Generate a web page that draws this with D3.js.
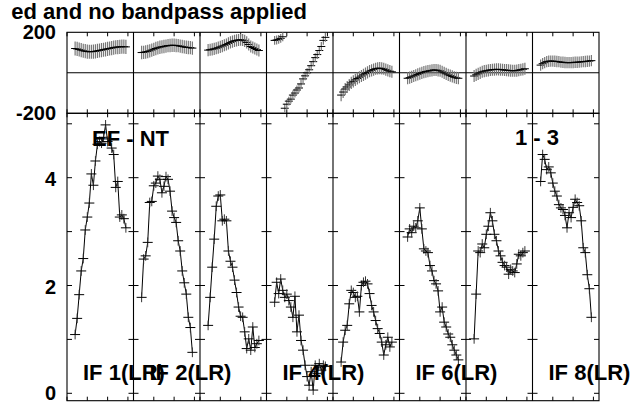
<!DOCTYPE html>
<html><head><meta charset="utf-8">
<script src="https://cdn.jsdelivr.net/npm/d3@7/dist/d3.min.js"></script>
<style>
body{margin:0;background:#fff}
svg{display:block}
text{font-family:"Liberation Sans",Arial,Helvetica,sans-serif;font-weight:bold;fill:#000}
</style>
</head><body>
<svg id="c" width="638" height="402"></svg>
<script>
// ---------------- data ----------------
const titleText = "ed and no bandpass applied";
const baselineLabel = "EF - NT";
const timeLabel = "1 - 3";
const ifNames = ["IF 1(LR)","IF 2(LR)","IF 3(LR)","IF 4(LR)","IF 5(LR)","IF 6(LR)","IF 7(LR)","IF 8(LR)"];
const ifLabelShown = [true, true, false, true, false, true, false, true];
const channels = [4,5,6,7,8,9,10,11,12,13,14,15,16,17,18,19,20,21,22,23,24,25,26,27,28,29];
const channelTicks = [0,10,20,30];
const phaseTicks = [-200, 200];
const ampTicks = [0,1,2,3,4,5];
const ampTickLabels = [0,2,4];

const phaseIF1 = [120,118,115,112,109,107,105,104,104,105,106,108,110,112,114,116,118,120,122,124,126,127,128,129,129,128];
const phaseIF2 = [100,101,103,105,108,112,116,120,123,126,128,130,132,134,135,136,136,135,134,132,130,128,126,125,124,122];
const phaseIF3 = [112,114,116,118,121,124,128,132,136,140,145,150,154,158,160,162,163,162,158,150,140,130,125,120,115,110];
const phaseIF4 = [160,162,165,170,178,-175,-155,-140,-130,-110,-100,-85,-75,-55,-30,-15,0,15,35,55,75,90,110,130,160,175];
const phaseIF5 = [-110,-95,-80,-70,-60,-50,-42,-35,-28,-22,-16,-10,-4,2,8,12,16,20,22,23,22,20,16,12,8,5];
const phaseIF6 = [-27,-24,-20,-16,-12,-8,-4,0,3,6,8,10,12,14,14,12,10,5,0,-5,-10,-14,-18,-22,-25,-27];
const phaseIF7 = [-16,-10,-5,0,5,8,10,12,14,15,16,17,17,16,15,14,13,12,11,10,10,11,13,15,17,20];
const phaseIF8 = [38,45,50,55,57,58,58,57,56,55,53,52,51,50,50,50,51,52,52,53,54,55,56,57,58,60];
const phaseErr = [35,33,30,22,30,30,30,28];

const ampIF1 = [1.09,1.39,1.83,2.27,2.50,3.03,3.27,3.53,4.07,3.86,4.31,4.62,4.67,4.64,4.75,4.98,4.67,4.72,4.55,4.43,3.82,3.93,3.27,3.31,3.24,3.07];
const ampIF2 = [1.78,2.49,2.55,2.80,3.54,3.56,3.85,3.90,4.03,3.97,3.72,3.84,4.02,3.97,3.75,3.38,3.26,3.17,2.83,2.64,2.27,2.05,1.84,1.41,1.22,0.76];
const ampIF3 = [1.26,1.78,2.34,2.86,3.47,3.66,3.68,3.20,3.23,3.20,2.64,2.45,2.34,2.10,1.87,1.60,1.43,1.41,1.14,0.83,1.01,0.80,1.23,0.85,0.92,0.98];
const ampIF4 = [1.69,2.06,1.85,2.12,1.91,1.78,1.84,1.72,1.60,1.41,1.80,1.14,1.45,0.98,0.80,0.52,0.31,0.15,0.40,0.06,0.52,0.37,0.55,0.43,0.52,0.50];
const ampIF5 = [0.58,0.95,1.17,1.26,1.66,1.91,1.87,1.78,1.80,1.51,2.00,2.06,2.08,2.03,1.85,1.63,1.51,1.35,1.20,1.11,0.95,0.71,0.90,1.04,0.86,0.95];
const ampIF6 = [2.90,3.05,2.98,3.10,3.07,3.20,3.44,3.05,2.68,2.64,2.61,2.37,2.27,2.09,2.03,1.90,1.51,1.60,1.32,1.23,1.10,1.04,0.90,0.80,0.71,0.62];
const ampIF7 = [1.01,1.84,2.64,2.61,2.77,2.70,2.95,3.10,3.35,3.20,2.95,2.83,2.64,2.55,2.43,2.37,2.34,2.21,2.30,2.27,2.24,2.40,2.58,2.55,2.61,2.64];
const ampIF8 = [3.93,4.43,4.34,4.15,4.20,4.09,3.90,3.75,3.66,3.50,3.44,3.41,3.30,3.07,3.35,3.26,3.45,3.60,3.54,3.48,3.20,2.70,2.61,2.20,1.94,1.41];
const ampErr = [0.09,0.09,0.09,0.09,0.09,0.09,0.09,0.09];

const phaseData = [phaseIF1,phaseIF2,phaseIF3,phaseIF4,phaseIF5,phaseIF6,phaseIF7,phaseIF8];
const ampData = [ampIF1,ampIF2,ampIF3,ampIF4,ampIF5,ampIF6,ampIF7,ampIF8];

// ---------------- layout ----------------
const X0 = 67, X1 = 599;
const PT = 32.3, PB = 113.3, AB = 400.7;
const svg = d3.select("#c");

const band = d3.scaleBand().domain(d3.range(8)).range([X0, X1]).paddingInner(0).paddingOuter(0);
const cx = d3.scaleLinear().domain([0, 32.75]).range([0, band.bandwidth()]);
const yP = d3.scaleLinear().domain([-200, 200]).range([PB, PT]);
const yA = d3.scaleLinear().domain([0, 5]).range([393.3, 123.8]);

// clip paths
const defs = svg.append("defs");
defs.append("clipPath").attr("id","clipP").append("rect")
  .attr("x",X0).attr("y",PT).attr("width",X1-X0).attr("height",PB-PT);
defs.append("clipPath").attr("id","clipA").append("rect")
  .attr("x",X0).attr("y",PB).attr("width",X1-X0).attr("height",AB-PB);

// title
svg.append("text").attr("x",307).attr("y",19).attr("text-anchor","end")
  .style("font-size","22px").text(titleText);

// frames
const frame = svg.append("g").attr("stroke","#000").attr("stroke-width",1.1).attr("fill","none");
frame.append("rect").attr("x",X0).attr("y",PT).attr("width",X1-X0).attr("height",PB-PT);
frame.append("rect").attr("x",X0).attr("y",PB).attr("width",X1-X0).attr("height",AB-PB);
frame.append("line").attr("x1",X0).attr("x2",X1).attr("y1",yP(0)).attr("y2",yP(0));
d3.range(1,8).forEach(i=>{
  frame.append("line").attr("x1",band(i)).attr("x2",band(i)).attr("y1",PT).attr("y2",AB);
});

// channel ticks (top & bottom of each panel)
const tk = svg.append("g").attr("stroke","#000").attr("stroke-width",1);
d3.range(8).forEach(i=>{
  channelTicks.forEach(c=>{
    const x = band(i)+cx(c);
    [[PT,4],[PB,-4],[PB,4],[AB,-4]].forEach(([y,d])=>{
      tk.append("line").attr("x1",x).attr("x2",x).attr("y1",y).attr("y2",y+d);
    });
  });
});
// amplitude ticks on every panel boundary
d3.range(9).forEach(i=>{
  const x = i<8 ? band(i) : X1;
  ampTicks.forEach(v=>{
    const y = yA(v);
    const l = i===0 ? 0 : -5, r = i===8 ? 0 : 5;
    tk.append("line").attr("x1",x+l).attr("x2",x+r).attr("y1",y).attr("y2",y);
  });
});

// tick labels
phaseTicks.forEach(v=>{
  svg.append("text").attr("x",56).attr("y",yP(v)+6.5).attr("text-anchor","end")
    .style("font-size","20px").text(v);
});
ampTickLabels.forEach(v=>{
  svg.append("text").attr("x",56).attr("y",yA(v)+(v===0?6.5:8)).attr("text-anchor","end")
    .style("font-size","20px").text(v);
});

// phase data
const gP = svg.append("g").attr("clip-path","url(#clipP)");
phaseData.forEach((arr,i)=>{
  arr.forEach((p,k)=>{
    const x = band(i)+cx(channels[k]);
    gP.append("line").attr("x1",x).attr("x2",x)
      .attr("y1",yP(p-phaseErr[i])).attr("y2",yP(p+phaseErr[i]))
      .attr("stroke","#777").attr("stroke-width",1.2);
    gP.append("line").attr("x1",x-4).attr("x2",x+4)
      .attr("y1",yP(p)).attr("y2",yP(p))
      .attr("stroke","#000").attr("stroke-width",1);
  });
});

// amplitude data
const gA = svg.append("g").attr("clip-path","url(#clipA)");
ampData.forEach((arr,i)=>{
  const line = d3.line().x((d,k)=>band(i)+cx(channels[k])).y(d=>yA(d));
  gA.append("path").attr("d",line(arr)).attr("fill","none")
    .attr("stroke","#000").attr("stroke-width",1);
  arr.forEach((a,k)=>{
    const x = band(i)+cx(channels[k]);
    gA.append("line").attr("x1",x).attr("x2",x)
      .attr("y1",yA(a-ampErr[i])).attr("y2",yA(a+ampErr[i]))
      .attr("stroke","#333").attr("stroke-width",1);
    gA.append("line").attr("x1",x-5).attr("x2",x+5)
      .attr("y1",yA(a)).attr("y2",yA(a))
      .attr("stroke","#000").attr("stroke-width",1);
  });
});

// labels
svg.append("text").attr("x",band(0)+25).attr("y",146).style("font-size","22px").text(baselineLabel);
svg.append("text").attr("x",band(7)-17.5).attr("y",145).style("font-size","22px").text(timeLabel);
ifNames.forEach((n,i)=>{
  if(!ifLabelShown[i]) return;
  svg.append("text").attr("x",band(i)+16).attr("y",379.5).style("font-size","22px").text(n);
});
</script>
</body></html>
